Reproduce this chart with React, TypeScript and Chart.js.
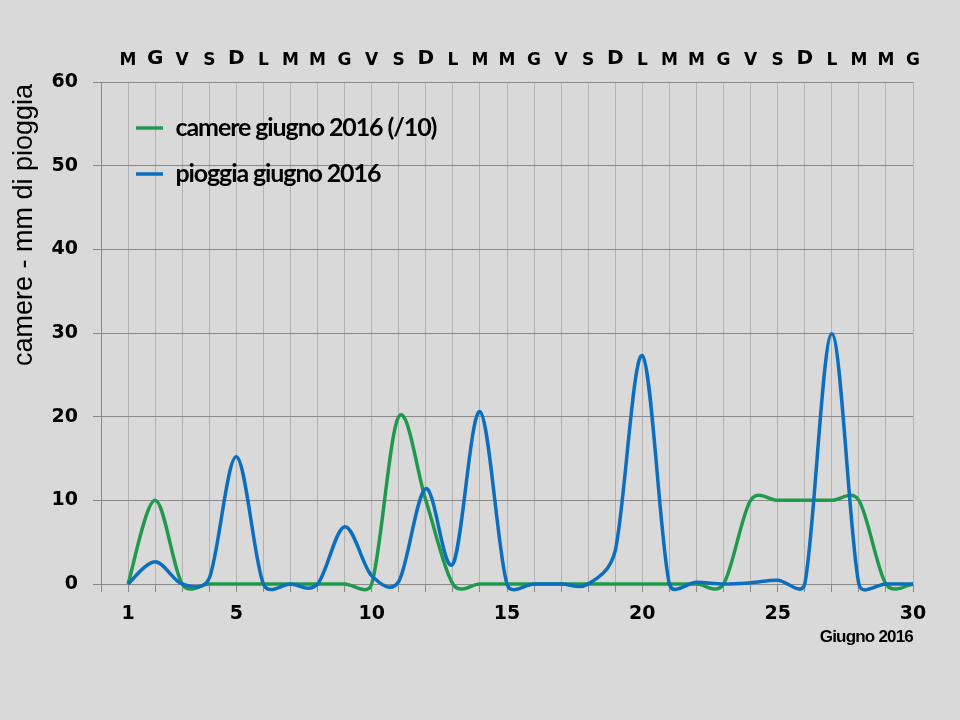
import React, { useEffect, useRef } from "react";
import { Chart, registerables } from "chart.js";

Chart.register(...registerables);

// ---- data ----
const days = [1, 2, 3, 4, 5, 6, 7, 8, 9, 10, 11, 12, 13, 14, 15, 16, 17, 18, 19, 20, 21, 22, 23, 24, 25, 26, 27, 28, 29, 30];
const dayLetters = ["M", "G", "V", "S", "D", "L", "M", "M", "G", "V", "S", "D", "L", "M", "M", "G", "V", "S", "D", "L", "M", "M", "G", "V", "S", "D", "L", "M", "M", "G"];
const bigLetterDays = [2, 5, 12, 19, 26];
const xTickLabels = [1, 5, 10, 15, 20, 25, 30];
const camere = [0, 10, 0, 0, 0, 0, 0, 0, 0, 0, 20, 10, 0, 0, 0, 0, 0, 0, 0, 0, 0, 0, 0, 10, 10, 10, 10, 10, 0, 0];
const pioggia = [0, 2.65, 0, 0.7, 15.2, 0, 0, 0, 6.85, 1, 0.3, 11.4, 2.4, 20.6, 0, 0, 0, 0, 4, 27.3, 0, 0.2, 0, 0.15, 0.45, 0, 29.9, 0, 0, 0];
const seriesNames = ["camere giugno 2016 (/10)", "pioggia giugno 2016"];
const yTitle = "camere - mm di pioggia";
const xTitle = "Giugno 2016";

const BG = "#d9d9d9";
const GREEN = "#1f9a4c";
const BLUE = "#0b6ebf";
const HGRID = "#8a8a8a";
const VGRID = "#b2b2b2";
const TICK_FONT = "'DejaVu Sans', Verdana, sans-serif";

// Excel-like smoothing: Catmull-Rom tangents (1/6) limited to half of the adjacent segment length
const smoothPlugin = {
  id: "excelSmooth",
  beforeDatasetDraw(chart: any, args: any) {
    const meta = args.meta;
    const line = meta.dataset;
    if (!line) return;
    if (typeof line.updateControlPoints === "function") {
      line.updateControlPoints(chart.chartArea, meta.iScale ? meta.iScale.axis : "x");
    }
    line._pointsUpdated = true;
    const pts = meta.data;
    const n = pts.length;
    for (let i = 0; i < n; i++) {
      const p = pts[i];
      const prev = pts[Math.max(i - 1, 0)];
      const next = pts[Math.min(i + 1, n - 1)];
      const tx = (next.x - prev.x) / 6;
      const ty = (next.y - prev.y) / 6;
      const tl = Math.hypot(tx, ty);
      const dNext = Math.hypot(next.x - p.x, next.y - p.y);
      const dPrev = Math.hypot(p.x - prev.x, p.y - prev.y);
      let sN = 1;
      let sP = 1;
      if (tl > 0) {
        if (tl > dNext / 2) sN = dNext / 2 / tl;
        if (tl > dPrev / 2) sP = dPrev / 2 / tl;
      }
      p.cp2x = p.x + tx * sN;
      p.cp2y = p.y + ty * sN;
      p.cp1x = p.x - tx * sP;
      p.cp1y = p.y - ty * sP;
    }
  },
};

const extraPlugin = {
  id: "extraText",
  beforeDraw(chart: any) {
    const ctx = chart.ctx;
    ctx.save();
    ctx.fillStyle = BG;
    ctx.fillRect(0, 0, chart.width, chart.height);
    ctx.restore();
  },
  afterLayout(chart: any) {
    const lg = chart.legend;
    if (lg) {
      const w = lg.width;
      lg.left = 115;
      lg.top = 94.5;
      lg.right = 115 + w;
      lg.bottom = 584;
      if (!lg._spacingWrapped) {
        const orig = lg.draw.bind(lg);
        lg.draw = (...a: any[]) => {
          const c = chart.ctx;
          c.save();
          (c as any).letterSpacing = "-1.1px";
          orig(...a);
          c.restore();
        };
        lg._spacingWrapped = true;
      }
    }
  },
  afterDraw(chart: any) {
    const ctx = chart.ctx;
    ctx.save();
    ctx.fillStyle = "#000";
    ctx.font = "27px 'Liberation Sans', Arial, sans-serif";
    ctx.translate(32, 225);
    ctx.rotate(-Math.PI / 2);
    ctx.textAlign = "center";
    ctx.textBaseline = "alphabetic";
    ctx.fillText(yTitle, 0, 0);
    ctx.restore();

    ctx.save();
    ctx.fillStyle = "#000";
    ctx.font = "bold 17px 'Liberation Sans', Arial, sans-serif";
    (ctx as any).letterSpacing = "-0.8px";
    ctx.textAlign = "right";
    ctx.textBaseline = "middle";
    ctx.fillText(xTitle, 913, 637);
    ctx.restore();
  },
};

export default function App() {
  const ref = useRef<HTMLCanvasElement | null>(null);

  useEffect(() => {
    document.body.style.margin = "0";
    document.body.style.background = BG;
    const canvas = ref.current;
    if (!canvas) return;
    const chart = new Chart(canvas, {
      type: "line",
      data: {
        datasets: [
          {
            label: seriesNames[0],
            data: days.map((d, i) => ({ x: d, y: camere[i] })),
            borderColor: GREEN,
            backgroundColor: GREEN,
            borderWidth: 3.5,
            pointRadius: 0,
            tension: 0.4,
            clip: false as any,
            order: 2,
          },
          {
            label: seriesNames[1],
            data: days.map((d, i) => ({ x: d, y: pioggia[i] })),
            borderColor: BLUE,
            backgroundColor: BLUE,
            borderWidth: 3.5,
            pointRadius: 0,
            tension: 0.4,
            clip: false as any,
            order: 1,
          },
        ],
      },
      options: {
        responsive: false,
        animation: false,
        events: [],
        layout: { padding: { left: 0, right: 47, top: 0, bottom: 0 } },
        elements: { line: { capBezierPoints: false } },
        plugins: {
          tooltip: { enabled: false },
          legend: {
            position: "chartArea" as any,
            align: "start",
            labels: {
              usePointStyle: true,
              pointStyle: "line",
              pointStyleWidth: 27,
              padding: 21,
              color: "#000",
              font: { family: "Lato, 'Liberation Sans', sans-serif", weight: "bold", size: 25 },
              sort: (a: any, b: any) => a.datasetIndex - b.datasetIndex,
            },
          },
        },
        scales: {
          x: {
            type: "linear",
            position: "bottom",
            min: 0,
            max: 30,
            afterFit: (s: any) => {
              s.height = 136;
            },
            grid: { color: VGRID, tickColor: HGRID, tickLength: 8, lineWidth: 1 },
            border: { color: HGRID },
            ticks: {
              stepSize: 1,
              autoSkip: false,
              maxRotation: 0,
              padding: 11,
              color: "#000",
              font: { family: TICK_FONT, weight: "bold", size: 19 },
              callback: (v: any) => (xTickLabels.includes(Number(v)) ? String(v) : ""),
            },
          },
          x2: {
            type: "linear",
            axis: "x",
            position: "top",
            min: 0,
            max: 30,
            afterFit: (s: any) => {
              s.height = 82;
            },
            grid: { display: false, drawTicks: false },
            border: { display: false },
            ticks: {
              stepSize: 1,
              autoSkip: false,
              maxRotation: 0,
              padding: 11,
              color: "#000",
              font: (c: any) => {
                const v = c.tick ? c.tick.value : 0;
                const big = bigLetterDays.includes(v);
                return { family: TICK_FONT, weight: "bold", size: big ? 20 : 17 };
              },
              callback: (v: any) => {
                const n = Number(v);
                return n >= 1 && n <= 30 ? dayLetters[n - 1] : "";
              },
            },
          },
          y: {
            type: "linear",
            position: "left",
            min: 0,
            max: 60,
            afterFit: (s: any) => {
              s.width = 101;
            },
            grid: { color: HGRID, tickColor: HGRID, tickLength: 8 },
            border: { color: HGRID },
            ticks: {
              stepSize: 10,
              padding: 15,
              color: "#000",
              font: { family: TICK_FONT, weight: "bold", size: 19 },
            },
          },
        },
      } as any,
      plugins: [smoothPlugin, extraPlugin],
    });
    return () => chart.destroy();
  }, []);

  return (
    <div style={{ width: 960, height: 720, background: BG }}>
      <canvas ref={ref} width={960} height={720} style={{ display: "block", width: 960, height: 720 }} />
    </div>
  );
}
